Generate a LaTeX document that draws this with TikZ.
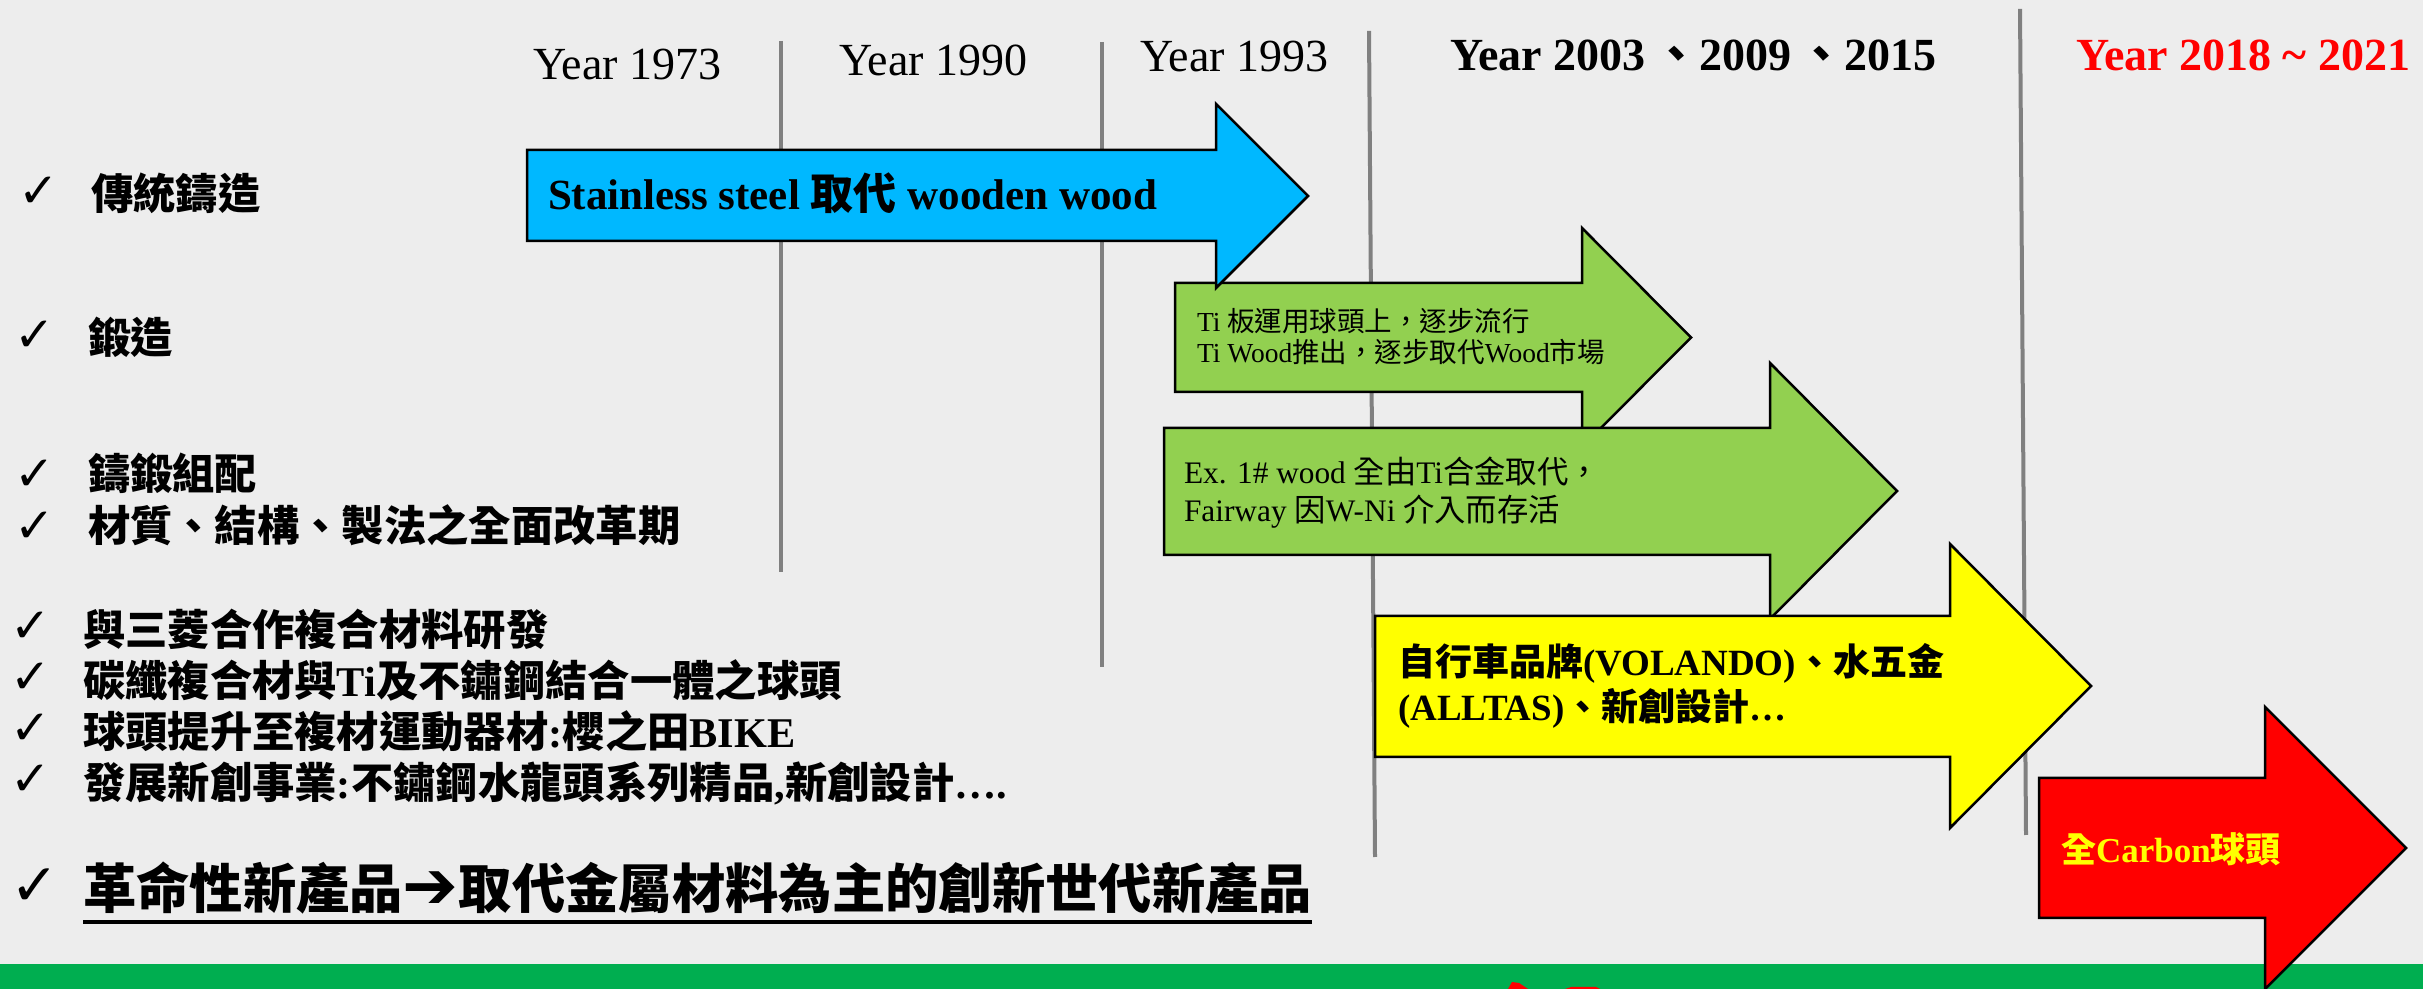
\documentclass[tikz,border=0pt]{standalone}
\usepackage{fontspec}
\setmainfont{Liberation Serif}
\newfontfamily\cjk{Noto Sans CJK TC}
\newfontfamily\symf{DejaVu Sans}
\newcommand\zh[1]{{\cjk #1}}
\definecolor{bgc}{RGB}{237,237,237}
\definecolor{bandgreen}{RGB}{0,174,80}
\definecolor{lineg}{RGB}{128,128,128}
\definecolor{blueA}{RGB}{0,184,255}
\definecolor{greenA}{RGB}{146,208,80}
\definecolor{yellowA}{RGB}{255,255,0}
\definecolor{redA}{RGB}{255,0,0}
\begin{document}
\begin{tikzpicture}[x=0.3pt,y=-0.3pt,
  txt/.style={anchor=base west, inner sep=0pt, outer sep=0pt},
  yearlbl/.style={txt, font=\fontsize{13.8}{16}\selectfont},
  yearbold/.style={txt, font=\fontsize{13.8}{16}\selectfont\bfseries},
  checkmk/.style={txt, font=\symf\fontsize{14.5}{16}\selectfont},
  bigcheck/.style={txt, font=\symf\fontsize{17.5}{19}\selectfont},
  itemtxt/.style={txt, font=\cjk\bfseries\fontsize{12.7}{14}\selectfont},
  bigitem/.style={txt, font=\cjk\bfseries\fontsize{16}{18}\selectfont},
  vline/.style={draw=lineg, line width=1.2pt},
  arrowshape/.style={draw=black, line width=0.75pt, line join=miter},
  gtxtA/.style={txt, font=\fontsize{8.25}{10}\selectfont},
  gtxtB/.style={txt, font=\fontsize{9.4}{11}\selectfont},
  ytxt/.style={txt, font=\fontsize{11.1}{13}\selectfont\bfseries},
  rtxt/.style={txt, text=yellowA, font=\fontsize{10.5}{12}\selectfont\bfseries}
]
\useasboundingbox (0,0) rectangle (2423,989);
\fill[bgc] (0,0) rectangle (2423,989);
\fill[bandgreen] (0,964) rectangle (2423,989);
% cut-off logo fragment at the bottom
\fill[redA] (1508,989) -- (1512,982) -- (1519,983) -- (1528,989) -- cycle;
\fill[redA] (1565,989) -- (1571,987) -- (1596,987) -- (1600,989) -- cycle;

% vertical timeline separators
\coordinate (l1t) at (781,41);   \coordinate (l1b) at (781,572);
\coordinate (l2t) at (1102,42);  \coordinate (l2b) at (1102,667);
\coordinate (l3t) at (1369,31);  \coordinate (l3b) at (1375,857);
\coordinate (l4t) at (2020,9);   \coordinate (l4b) at (2026,835);
\draw[vline] (l1t) -- (l1b);
\draw[vline] (l2t) -- (l2b);
\draw[vline] (l3t) -- (l3b);
\draw[vline] (l4t) -- (l4b);

% year labels
\node[yearlbl] (y1) at (533,80) {Year 1973};
\node[yearlbl] (y2) at (839,76) {Year 1990};
\node[yearlbl] (y3) at (1140,72) {Year 1993};
\node[yearbold] (y4) at (1450,71) {Year 2003\,\zh{、}2009\,\zh{、}2015};
\node[yearbold, text=redA] (y5) at (2076,71) {Year 2018 \textasciitilde{} 2021};

% arrows
\draw[arrowshape, fill=greenA] (1175,283) -- (1582,283) -- (1582,228) -- (1691,337.5) -- (1582,447) -- (1582,392) -- (1175,392) -- cycle;
\draw[arrowshape, fill=blueA] (527,150) -- (1216,150) -- (1216,104) -- (1308,196) -- (1216,288) -- (1216,241) -- (527,241) -- cycle;
\draw[arrowshape, fill=greenA] (1164,428) -- (1770,428) -- (1770,363) -- (1897,491) -- (1770,619) -- (1770,555) -- (1164,555) -- cycle;
\draw[arrowshape, fill=yellowA] (1375,616) -- (1950,616) -- (1950,544) -- (2091,686) -- (1950,828) -- (1950,757) -- (1375,757) -- cycle;
\draw[arrowshape, fill=redA] (2039,778) -- (2265,778) -- (2265,707) -- (2406,848) -- (2265,989) -- (2265,918) -- (2039,918) -- cycle;

% arrow texts
\node[txt, font=\fontsize{12.9}{15}\selectfont\bfseries] (tb) at (548,210) {Stainless steel \zh{取代} wooden wood};
\node[gtxtA] (tg1a) at (1197,332) {Ti \zh{板運用球頭上，逐步流行}};
\node[gtxtA] (tg1b) at (1197,363) {Ti Wood\zh{推出，逐步取代}Wood\zh{市場}};
\node[gtxtB] (tg2a) at (1184,484) {Ex. 1\# wood \zh{全由}Ti\zh{合金取代，}};
\node[gtxtB] (tg2b) at (1184,522) {Fairway \zh{因}W-Ni \zh{介入而存活}};
\node[ytxt] (ty1) at (1398,676) {\zh{自行車品牌}(VOLANDO)\zh{、水五金}};
\node[ytxt] (ty2) at (1398,721) {(ALLTAS)\zh{、新創設計}…};
\node[rtxt] (tr) at (2061,863) {\zh{全}Carbon\zh{球頭}};

% left check list
\node[checkmk] (c1) at (18,208) {✓};
\node[itemtxt] (i1) at (91,210) {傳統鑄造};
\node[checkmk] (c2) at (15,352) {✓};
\node[itemtxt] (i2) at (88,354) {鍛造};
\node[checkmk] (c3) at (15,491) {✓};
\node[itemtxt] (i3) at (88,490) {鑄鍛組配};
\node[checkmk] (c4) at (15,543) {✓};
\node[itemtxt] (i4) at (88,542) {材質、結構、製法之全面改革期};
\node[checkmk] (c5) at (10,643) {✓};
\node[itemtxt] (i5) at (83,646) {與三菱合作複合材料研發};
\node[checkmk] (c6) at (10,694) {✓};
\node[itemtxt] (i6) at (83,697) {碳纖複合材與{\rmfamily Ti}及不鏽鋼結合一體之球頭};
\node[checkmk] (c7) at (10,745) {✓};
\node[itemtxt] (i7) at (83,748) {球頭提升至複材運動器材{\rmfamily :}櫻之田{\rmfamily BIKE}};
\node[checkmk] (c8) at (10,796) {✓};
\node[itemtxt] (i8) at (83,799) {發展新創事業{\rmfamily :}不鏽鋼水龍頭系列精品{\rmfamily ,}新創設計{\rmfamily ….}};
\node[bigcheck] (c9) at (10,906) {✓};
\node[bigitem] (i9) at (83,909) {革命性新產品{\symf\bfseries\fontsize{20}{20}\selectfont ➔}取代金屬材料為主的創新世代新產品};
\draw[line width=1.2pt] ([yshift=-3.9pt]i9.base west) -- ([yshift=-3.9pt]i9.base east);
\end{tikzpicture}
\end{document}
